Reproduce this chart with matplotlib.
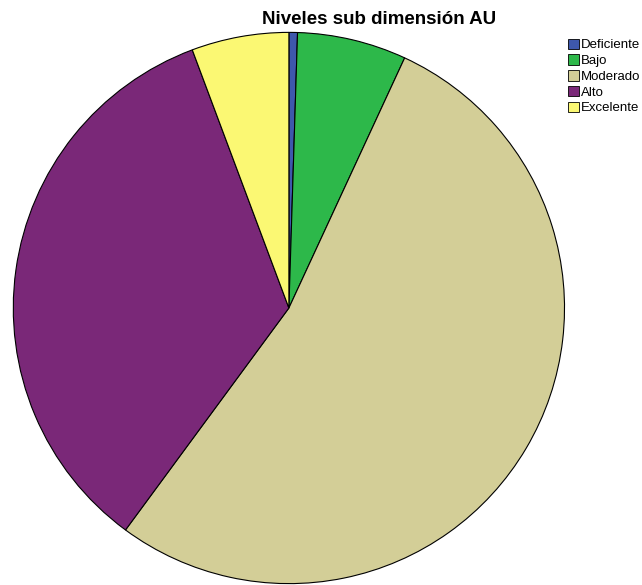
import matplotlib.pyplot as plt
from matplotlib.patches import Patch

categorias = ['Deficiente', 'Bajo', 'Moderado', 'Alto', 'Excelente']
porcentajes = [0.5, 6.4, 53.2, 34.2, 5.7]
colores = ['#3E58AC', '#2DB84A', '#D3CE97', '#7A2878', '#FBF873']

fig = plt.figure(figsize=(6.42, 5.85), dpi=100)
ax = fig.add_axes([0.0185, 0.0, 0.863, 0.947])
ax.pie(porcentajes, colors=colores, startangle=90, counterclock=False,
       wedgeprops={'edgecolor': 'black', 'linewidth': 0.8})
ax.set_xlim(-1.005, 1.005)
ax.set_ylim(-1.005, 1.005)
ax.set_aspect('equal')

fig.text(0.591, 0.966, 'Niveles sub dimensión AU', ha='center', va='center',
         fontsize=13.5, fontweight='bold', family='Liberation Sans')

handles = [Patch(facecolor=c, edgecolor='black', linewidth=0.6) for c in colores]
fig.legend(handles, categorias, loc='upper left', bbox_to_anchor=(0.885, 0.934),
           frameon=False, handlelength=0.85, handleheight=0.85,
           handletextpad=0.15, labelspacing=0.22, borderpad=0.0,
           borderaxespad=0.0, prop={'family': 'Liberation Sans', 'size': 9.5})

fig.savefig('out.png', dpi=100)
